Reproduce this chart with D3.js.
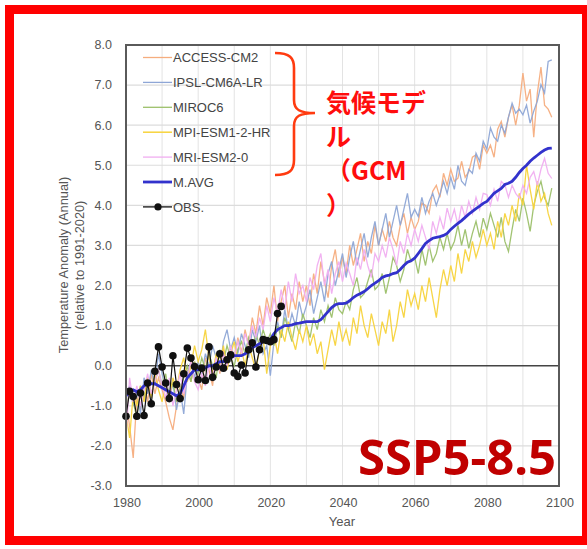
<!DOCTYPE html>
<html><head><meta charset="utf-8">
<script src="https://cdn.jsdelivr.net/npm/d3@7/dist/d3.min.js"></script>
<style>body{margin:0;background:#fff}svg{display:block}</style>
</head><body>
<script>
const modelStart = 1980;
const obsStart = 1980;
const xTicks = [1980, 2000, 2020, 2040, 2060, 2080, 2100];
const yTicks = [-3, -2, -1, 0, 1, 2, 3, 4, 5, 6, 7, 8];
const seriesNames = ["ACCESS-CM2","IPSL-CM6A-LR","MIROC6","MPI-ESM1-2-HR","MRI-ESM2-0","M.AVG","OBS."];

const accessCM2 = [
-0.9,-1.5,-2.3,-0.8,-1.1,-0.4,-0.9,-0.2,-0.7,-0.3,
-0.6,-0.9,-1.3,-1.6,-1.0,-0.5,-0.8,-0.1,-0.4,0.1,
-0.3,-0.6,0.2,-0.1,-0.5,0.3,-0.2,0.4,0.0,0.5,
0.2,0.7,0.3,0.9,0.5,1.2,0.8,1.5,1.0,1.7,
1.3,2.0,1.1,1.6,2.0,1.2,1.8,1.4,2.1,1.6,
2.0,1.5,2.3,1.8,2.6,2.1,1.7,2.5,2.9,2.2,
2.7,2.3,3.0,2.5,2.9,3.3,2.6,3.1,2.8,3.5,
3.0,3.4,3.1,3.6,3.2,3.0,3.5,3.8,3.3,3.7,
3.4,3.6,4.06,4.0,3.8,4.35,4.5,4.2,4.8,4.5,
4.9,4.6,4.68,5.1,4.7,4.84,5.2,5.26,4.9,5.5,
5.3,5.5,5.2,5.9,6.09,5.7,6.2,6.5,6.0,6.5,
7.3,6.6,6.9,5.7,6.8,7.45,6.5,6.4,6.2];
const ipslCM6A = [
-0.8,-0.5,-1.0,-0.6,-1.2,-0.3,-0.7,-0.1,-0.5,0.3,
-0.2,-0.6,-0.9,-0.4,-1.1,-0.6,-1.2,-0.2,0.1,-0.3,
0.1,-0.2,0.3,0.0,0.5,0.2,-0.1,0.6,0.9,0.4,
0.7,0.3,0.8,0.5,0.2,0.9,0.6,1.0,0.3,0.5,
-0.25,0.6,1.1,0.7,1.4,0.9,1.3,1.0,1.6,1.2,
1.5,1.9,1.3,1.7,2.1,1.6,2.3,2.6,2.0,2.4,
2.8,2.2,2.7,3.1,2.5,2.9,3.3,2.7,3.2,3.6,
3.0,3.4,3.8,3.2,3.6,4.0,3.5,3.9,4.3,3.7,
3.9,3.72,4.2,3.8,4.1,4.3,4.0,4.27,4.6,4.3,
4.7,4.4,5.0,4.6,4.5,4.9,4.8,5.3,5.1,5.6,
5.4,5.93,5.7,5.6,6.0,5.8,6.2,6.55,6.3,6.4,
6.26,6.5,6.05,6.35,6.6,7.01,6.8,7.59,7.63];
const miroc6 = [
-1.1,-0.6,-0.9,-1.3,-0.5,-0.8,-0.3,-0.7,-0.4,-0.1,
-0.5,-0.2,-0.8,-0.4,-0.9,-0.6,-0.3,0.0,-0.4,0.1,
-0.2,0.2,-0.1,0.3,0.0,-0.3,0.4,0.1,0.5,0.2,
0.0,0.4,0.6,0.3,0.7,0.4,0.8,0.5,0.9,0.6,
0.8,0.5,1.0,0.7,1.2,0.9,0.6,1.1,0.8,1.3,
1.0,0.7,1.2,0.9,1.4,1.1,1.5,1.2,1.7,1.4,
1.3,1.6,1.4,1.9,2.2,1.7,1.8,2.1,2.4,1.9,
2.0,2.3,1.8,2.2,2.7,2.5,2.1,2.4,2.9,2.6,
2.7,2.3,2.9,2.5,3.0,2.6,2.8,3.2,2.9,3.3,
2.9,3.1,3.5,3.0,3.4,2.93,3.3,3.6,3.2,3.68,
3.4,3.8,3.5,3.2,3.7,3.1,2.85,3.4,3.9,3.6,
4.18,3.8,3.35,4.0,4.35,4.6,4.18,4.0,4.43];
const mpiESM = [
-1.2,-1.8,-0.7,-1.0,-0.5,-0.9,-0.3,-0.8,-0.2,-0.6,
-0.9,-0.4,-0.8,-0.3,-0.6,-0.1,0.2,-0.4,0.0,0.5,
0.1,0.4,0.9,0.2,-0.2,0.3,0.0,0.5,-0.1,0.3,
0.6,0.1,0.4,0.0,0.5,0.2,-0.1,0.4,0.7,-0.2,
0.5,0.8,0.3,0.9,0.6,1.1,0.7,0.4,0.9,0.6,
1.0,0.5,0.8,0.3,0.6,-0.1,0.4,0.9,0.5,1.1,
0.6,0.9,0.5,1.2,0.8,1.5,1.0,0.7,1.3,0.9,
0.5,1.1,0.8,1.4,0.6,1.0,1.6,1.2,1.9,1.5,
1.8,1.4,2.0,1.6,2.2,1.7,1.2,1.9,2.4,2.0,
2.5,2.1,2.8,2.3,2.9,2.6,3.1,2.7,3.0,3.4,
3.0,3.3,2.9,3.6,3.2,3.8,3.5,4.0,3.6,4.3,
4.0,5.0,4.4,3.9,4.6,4.1,4.3,3.8,3.5];
const mriESM = [
-1.8,-0.3,-0.9,-0.5,-1.0,-0.6,-0.2,-0.7,-0.4,-0.1,
-0.5,-0.8,-0.3,-1.0,-0.6,-0.2,-0.7,-0.3,0.1,-0.4,
-0.6,-0.2,-0.5,0.0,-0.3,0.2,-0.1,0.3,0.0,0.5,
0.2,0.6,0.3,0.8,0.5,1.0,0.7,1.2,0.9,1.5,
1.1,1.7,1.3,1.9,1.4,2.1,1.6,2.3,1.8,2.0,
1.6,2.2,1.9,2.5,2.8,2.0,2.4,1.8,2.3,2.6,
2.1,2.56,2.3,2.0,2.7,2.4,2.9,2.5,2.2,2.8,
2.6,3.0,2.7,3.2,2.9,2.5,3.1,2.8,3.3,3.0,
3.4,3.1,3.5,3.2,2.9,3.6,3.3,3.7,3.4,3.93,
3.6,3.9,3.5,4.0,3.7,4.1,3.8,4.2,3.9,4.3,
4.27,4.0,4.4,4.1,4.6,4.51,4.2,4.5,4.3,4.18,
4.5,4.3,4.7,4.84,4.5,4.9,5.17,4.8,4.67];
const mAvg = [
-0.75,-0.65,-0.6,-0.65,-0.6,-0.5,-0.45,-0.45,-0.45,-0.5,
-0.55,-0.6,-0.65,-0.7,-0.75,-0.7,-0.5,-0.3,-0.2,-0.1,
-0.1,-0.05,-0.05,0.0,0.0,0.05,0.1,0.1,0.15,0.2,
0.25,0.25,0.25,0.3,0.35,0.45,0.5,0.55,0.6,0.6,
0.65,0.8,0.9,0.95,1.0,1.0,1.02,1.05,1.06,1.08,
1.1,1.1,1.1,1.1,1.15,1.25,1.35,1.45,1.52,1.55,
1.55,1.56,1.62,1.7,1.76,1.8,1.85,1.92,2.0,2.06,
2.12,2.2,2.24,2.26,2.3,2.32,2.4,2.5,2.58,2.62,
2.68,2.8,2.92,3.05,3.12,3.18,3.2,3.22,3.25,3.3,
3.4,3.48,3.55,3.62,3.7,3.78,3.85,3.92,3.98,4.05,
4.1,4.2,4.3,4.36,4.42,4.52,4.55,4.6,4.7,4.82,
4.92,5.0,5.1,5.18,5.25,5.32,5.38,5.42,5.43];
const obs = [
-1.26,-0.64,-0.77,-1.26,-0.68,-1.24,-0.43,-0.95,-0.14,0.47,
-0.03,-0.43,-0.82,0.25,-0.47,-0.82,-0.2,0.44,0.19,-0.02,
-0.35,-0.06,-0.37,0.47,-0.29,-0.03,0.3,-0.06,0.15,0.27,
-0.18,-0.27,0.02,-0.18,0.4,0.57,-0.03,0.4,0.65,0.63,
0.6,0.65,1.3,1.48];

const W = 587, H = 549;
const svg = d3.select("body").append("svg").attr("width", W).attr("height", H);
const x = d3.scaleLinear().domain([1980, 2100]).range([126, 559]);
const y = d3.scaleLinear().domain([-3, 8]).range([486, 45]);
const font = "'Liberation Sans', Arial, sans-serif";

// grid
const g = svg.append("g");
g.selectAll(".vg").data(d3.range(1990, 2100, 10)).join("line")
  .attr("x1", d => x(d)).attr("x2", d => x(d)).attr("y1", y(8)).attr("y2", y(-3))
  .attr("stroke", "#e3e3e3").attr("stroke-width", 1);
g.selectAll(".hg").data(yTicks.filter(v => v !== 0 && v !== 8 && v !== -3)).join("line")
  .attr("x1", x(1980)).attr("x2", x(2100)).attr("y1", d => y(d)).attr("y2", d => y(d))
  .attr("stroke", "#dcdcdc").attr("stroke-width", 1.2);

// zero line
svg.append("line").attr("x1", x(1980)).attr("x2", x(2100)).attr("y1", y(0)).attr("y2", y(0))
  .attr("stroke", "#444").attr("stroke-width", 1.6);

const models = [
  {name: seriesNames[0], data: accessCM2, color: "#f5ad7e"},
  {name: seriesNames[1], data: ipslCM6A, color: "#8ea6d6"},
  {name: seriesNames[2], data: miroc6, color: "#9cc06a"},
  {name: seriesNames[3], data: mpiESM, color: "#f7d33c"},
  {name: seriesNames[4], data: mriESM, color: "#f0aef0"}
];
const line = d3.line().x(d => x(d[0])).y(d => y(d[1]));
const toPts = (arr, start) => arr.map((v, i) => [start + i, v]);

models.forEach(m => {
  svg.append("path").attr("d", line(toPts(m.data, modelStart)))
    .attr("fill", "none").attr("stroke", m.color).attr("stroke-width", 1.3).attr("stroke-opacity", 0.95);
});

svg.append("path").attr("d", line(toPts(mAvg, modelStart)))
  .attr("fill", "none").attr("stroke", "#3232cc").attr("stroke-width", 2.8);

const obsPts = toPts(obs, obsStart);
svg.append("path").attr("d", line(obsPts)).attr("fill", "none").attr("stroke", "#111").attr("stroke-width", 1.2);
svg.selectAll(".od").data(obsPts).join("circle")
  .attr("cx", d => x(d[0])).attr("cy", d => y(d[1])).attr("r", 3.8).attr("fill", "#111");

// frame
svg.append("rect").attr("x", x(1980)).attr("y", y(8)).attr("width", x(2100) - x(1980)).attr("height", y(-3) - y(8))
  .attr("fill", "none").attr("stroke", "#5a5a5a").attr("stroke-width", 2);

// y ticks
svg.selectAll(".yt").data(yTicks).join("text")
  .attr("x", 112).attr("y", d => y(d)).attr("dy", "0.35em").attr("text-anchor", "end")
  .attr("font-family", font).attr("font-size", 12.5).attr("fill", "#555")
  .text(d => d.toFixed(1));
// x ticks
svg.selectAll(".xt").data(xTicks).join("text")
  .attr("x", d => x(d) + 1).attr("y", 507).attr("text-anchor", "middle")
  .attr("font-family", font).attr("font-size", 12.5).attr("fill", "#555")
  .text(d => d);
svg.append("text").attr("x", 342).attr("y", 526).attr("text-anchor", "middle")
  .attr("font-family", font).attr("font-size", 13).attr("fill", "#555").text("Year");
const yt = svg.append("text").attr("transform", "translate(68,265) rotate(-90)")
  .attr("text-anchor", "middle").attr("font-family", font).attr("font-size", 12.8).attr("fill", "#555");
yt.append("tspan").attr("x", 0).attr("y", 0).text("Temperature Anomaly (Annual)");
yt.append("tspan").attr("x", 0).attr("y", 16).text("(relative to 1991-2020)");

// legend
const legendItems = [
  {name: seriesNames[0], color: models[0].color, w: 1.3},
  {name: seriesNames[1], color: models[1].color, w: 1.3},
  {name: seriesNames[2], color: models[2].color, w: 1.3},
  {name: seriesNames[3], color: models[3].color, w: 1.5},
  {name: seriesNames[4], color: models[4].color, w: 1.3},
  {name: seriesNames[5], color: "#3232cc", w: 2.8},
  {name: seriesNames[6], color: "#111", w: 1.3, dot: true}
];
const lg = svg.append("g");
legendItems.forEach((it, i) => {
  const yy = 57.5 + i * 24.9;
  lg.append("line").attr("x1", 143).attr("x2", 172).attr("y1", yy).attr("y2", yy)
    .attr("stroke", it.color).attr("stroke-width", it.w);
  if (it.dot) lg.append("circle").attr("cx", 158).attr("cy", yy).attr("r", 3.6).attr("fill", "#111");
  lg.append("text").attr("x", 173).attr("y", yy).attr("dy", "0.36em")
    .attr("font-family", font).attr("font-size", 13).attr("fill", "#444").text(it.name);
});

// bracket
svg.append("path")
  .attr("d", "M275,53 C290,53 294,58 294,68 L294,100 C294,110 300,113 315,113 C300,113 294,116 294,126 L294,160 C294,170 290,175 275,175")
  .attr("fill", "none").attr("stroke", "#ff3b10").attr("stroke-width", 2.6);

// annotation (wrapped lines)
const jpLines = [
  {t: "気候モデ", y: 112},
  {t: "ル", y: 146},
  {t: "（GCM", y: 180},
  {t: "）", y: 215}
];
svg.selectAll(".jp").data(jpLines).join("text")
  .attr("x", 326).attr("y", d => d.y)
  .attr("font-family", "'Noto Sans CJK JP', sans-serif").attr("font-weight", "bold")
  .attr("font-size", 25).attr("fill", "#ff0d0d").text(d => d.t);

svg.append("text").attr("x", 358).attr("y", 474.5).attr("font-family", "'Noto Sans', sans-serif")
  .attr("font-weight", "bold").attr("font-size", 49).attr("fill", "#c00000").text("SSP5-8.5");

// red border
svg.append("rect").attr("x", 9.5).attr("y", 9.5).attr("width", 577).attr("height", 531)
  .attr("fill", "none").attr("stroke", "#ff0000").attr("stroke-width", 9);
</script>
</body></html>
